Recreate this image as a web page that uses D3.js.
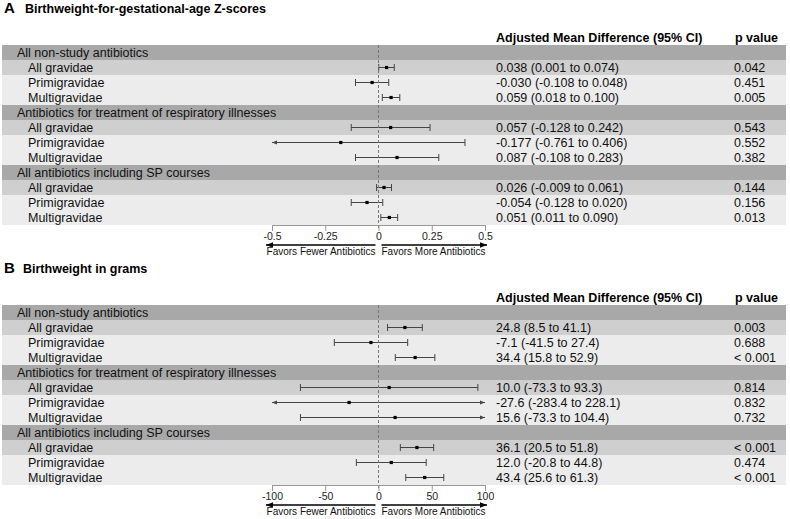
<!DOCTYPE html>
<html>
<head>
<meta charset="utf-8">
<script src="https://cdn.jsdelivr.net/npm/d3@7"></script>
<style>
html,body{margin:0;padding:0;background:#fff;}
svg{display:block;font-family:"Liberation Sans",Arial,sans-serif;}
</style>
</head>
<body>
<svg id="chart" width="790" height="519"></svg>
<script>
// ---------- data ----------
const groups = ["All non-study antibiotics", "Antibiotics for treatment of respiratory illnesses", "All antibiotics including SP courses"];
const subgroups = ["All gravidae", "Primigravidae", "Multigravidae"];

// Panel A: Birthweight-for-gestational-age Z-scores
const zEst   = [0.038, -0.030, 0.059, 0.057, -0.177, 0.087, 0.026, -0.054, 0.051];
const zLow   = [0.001, -0.108, 0.018, -0.128, -0.761, -0.108, -0.009, -0.128, 0.011];
const zHigh  = [0.074, 0.048, 0.100, 0.242, 0.406, 0.283, 0.061, 0.020, 0.090];
const zText  = ["0.038 (0.001 to 0.074)", "-0.030 (-0.108 to 0.048)", "0.059 (0.018 to 0.100)",
                "0.057 (-0.128 to 0.242)", "-0.177 (-0.761 to 0.406)", "0.087 (-0.108 to 0.283)",
                "0.026 (-0.009 to 0.061)", "-0.054 (-0.128 to 0.020)", "0.051 (0.011 to 0.090)"];
const zP     = ["0.042", "0.451", "0.005", "0.543", "0.552", "0.382", "0.144", "0.156", "0.013"];
const zTicks = [-0.5, -0.25, 0, 0.25, 0.5];
const zTickLabels = ["-0.5", "-0.25", "0", "0.25", "0.5"];

// Panel B: Birthweight in grams
const gEst   = [24.8, -7.1, 34.4, 10.0, -27.6, 15.6, 36.1, 12.0, 43.4];
const gLow   = [8.5, -41.5, 15.8, -73.3, -283.4, -73.3, 20.5, -20.8, 25.6];
const gHigh  = [41.1, 27.4, 52.9, 93.3, 228.1, 104.4, 51.8, 44.8, 61.3];
const gText  = ["24.8 (8.5 to 41.1)", "-7.1 (-41.5 to 27.4)", "34.4 (15.8 to 52.9)",
                "10.0 (-73.3 to 93.3)", "-27.6 (-283.4 to 228.1)", "15.6 (-73.3 to 104.4)",
                "36.1 (20.5 to 51.8)", "12.0 (-20.8 to 44.8)", "43.4 (25.6 to 61.3)"];
const gP     = ["0.003", "0.688", "< 0.001", "0.814", "0.832", "0.732", "< 0.001", "0.474", "< 0.001"];
const gTicks = [-100, -50, 0, 50, 100];
const gTickLabels = ["-100", "-50", "0", "50", "100"];

const panels = [
  {letter: "A", title: "Birthweight-for-gestational-age Z-scores", est: zEst, low: zLow, high: zHigh,
   text: zText, p: zP, ticks: zTicks, tickLabels: zTickLabels, top: 0, titleX: 25},
  {letter: "B", title: "Birthweight in grams", est: gEst, low: gLow, high: gHigh,
   text: gText, p: gP, ticks: gTicks, tickLabels: gTickLabels, top: 260, titleX: 23}
];

// ---------- drawing ----------
const svg = d3.select("#chart");
const defs = svg.append("defs");
function marker(id, size, color, dir) {
  const m = defs.append("marker").attr("id", id)
    .attr("viewBox", "0 0 10 10").attr("refX", 10).attr("refY", 5)
    .attr("markerWidth", size).attr("markerHeight", size)
    .attr("markerUnits", "userSpaceOnUse").attr("orient", "auto");
  m.append("path").attr("d", "M0,1 L10,5 L0,9 Z").attr("fill", color);
}
marker("ciArrow", 5, "#444");
marker("favArrow", 7, "#000");

const rowH = 15;
const colors = {group: "#a8a8a8", first: "#cfcfcf", other: "#ececec"};

panels.forEach(P => {
  const g = svg.append("g").attr("transform", `translate(0,${P.top})`);
  const x = d3.scaleLinear().domain([P.ticks[0], P.ticks[P.ticks.length - 1]]).range([272, 485]);
  const [dmin, dmax] = x.domain();

  // title
  g.append("text").attr("x", 4).attr("y", 13).attr("font-size", 15).attr("font-weight", "bold")
    .attr("fill", "#000").text(P.letter);
  g.append("text").attr("x", P.titleX).attr("y", 13).attr("font-size", 12.5).attr("font-weight", "bold")
    .attr("fill", "#000").text(P.title);

  // header
  g.append("text").attr("x", 496).attr("y", 41.5).attr("font-size", 12.5).attr("font-weight", "bold")
    .text("Adjusted Mean Difference (95% CI)");
  g.append("text").attr("x", 735).attr("y", 41.5).attr("font-size", 12.5).attr("font-weight", "bold")
    .text("p value");

  // build rows
  const rows = [];
  groups.forEach((grp, gi) => {
    rows.push({type: "group", label: grp});
    subgroups.forEach((s, si) => {
      const k = gi * 3 + si;
      rows.push({type: si === 0 ? "first" : "other", label: s, est: P.est[k], low: P.low[k],
                 high: P.high[k], text: P.text[k], p: P.p[k]});
    });
  });
  const y0 = 45;
  const y = d3.scaleBand().domain(d3.range(rows.length)).range([y0, y0 + rows.length * rowH]);
  const rowsBottom = y0 + rows.length * rowH;

  const rg = g.selectAll("g.row").data(rows).join("g").attr("class", "row")
    .attr("transform", (d, i) => `translate(0,${y(i)})`);
  rg.append("rect").attr("x", 2).attr("width", 784).attr("height", rowH)
    .attr("fill", d => colors[d.type]);
  rg.append("text").attr("x", d => d.type === "group" ? 17 : 28).attr("y", 12.3)
    .attr("font-size", 12.5).attr("fill", "#111").text(d => d.label);
  const dr = rg.filter(d => d.type !== "group");
  dr.append("text").attr("x", 496).attr("y", 12.3).attr("font-size", 12.5).attr("fill", "#111")
    .text(d => d.text);
  dr.append("text").attr("x", 734).attr("y", 12.3).attr("font-size", 12.5).attr("fill", "#111")
    .text(d => d.p);

  // zero reference line
  g.append("line").attr("x1", x(0)).attr("x2", x(0)).attr("y1", y0).attr("y2", rowsBottom + 5)
    .attr("stroke", "#777").attr("stroke-width", 1).attr("stroke-dasharray", "3,2");

  // CIs
  const cy = rowH / 2;
  dr.each(function(d) {
    const s = d3.select(this);
    const lo = Math.max(d.low, dmin), hi = Math.min(d.high, dmax);
    const loClip = d.low < dmin, hiClip = d.high > dmax;
    const mid = x(d.est);
    // left part
    s.append("line").attr("x1", mid).attr("x2", x(lo)).attr("y1", cy).attr("y2", cy)
      .attr("stroke", "#444").attr("stroke-width", 1)
      .attr("marker-end", loClip ? "url(#ciArrow)" : null);
    s.append("line").attr("x1", mid).attr("x2", x(hi)).attr("y1", cy).attr("y2", cy)
      .attr("stroke", "#444").attr("stroke-width", 1)
      .attr("marker-end", hiClip ? "url(#ciArrow)" : null);
    if (!loClip) s.append("line").attr("x1", x(lo)).attr("x2", x(lo)).attr("y1", cy - 3.5).attr("y2", cy + 3.5)
      .attr("stroke", "#444").attr("stroke-width", 1);
    if (!hiClip) s.append("line").attr("x1", x(hi)).attr("x2", x(hi)).attr("y1", cy - 3.5).attr("y2", cy + 3.5)
      .attr("stroke", "#444").attr("stroke-width", 1);
    s.append("rect").attr("x", mid - 1.6).attr("y", cy - 1.6).attr("width", 3.2).attr("height", 3.2)
      .attr("fill", "#000");
  });

  // axis
  const axis = d3.axisBottom(x).tickValues(P.ticks)
    .tickFormat((v, i) => P.tickLabels[i]).tickSize(6).tickSizeOuter(0).tickPadding(2);
  const ag = g.append("g").attr("transform", `translate(0,${rowsBottom})`).call(axis);
  ag.select(".domain").attr("stroke", "#999");
  ag.selectAll(".tick line").attr("stroke", "#999");
  ag.selectAll(".tick text").attr("font-size", 10.5).attr("fill", "#222")
    .attr("font-family", "Liberation Sans, Arial, sans-serif");

  // favors arrows
  const ay = rowsBottom + 20;
  g.append("line").attr("x1", x(0) - 3).attr("x2", x(dmin) - 6).attr("y1", ay).attr("y2", ay)
    .attr("stroke", "#000").attr("stroke-width", 1.5).attr("marker-end", "url(#favArrow)");
  g.append("line").attr("x1", x(0) + 3).attr("x2", x(dmax) + 2).attr("y1", ay).attr("y2", ay)
    .attr("stroke", "#000").attr("stroke-width", 1.5).attr("marker-end", "url(#favArrow)");
  g.append("text").attr("x", x(0) - 3).attr("y", rowsBottom + 30).attr("text-anchor", "end")
    .attr("font-size", 10).attr("fill", "#111").text("Favors Fewer Antibiotics");
  g.append("text").attr("x", x(0) + 3).attr("y", rowsBottom + 30)
    .attr("font-size", 10).attr("fill", "#111").text("Favors More Antibiotics");
});
</script>
</body>
</html>
